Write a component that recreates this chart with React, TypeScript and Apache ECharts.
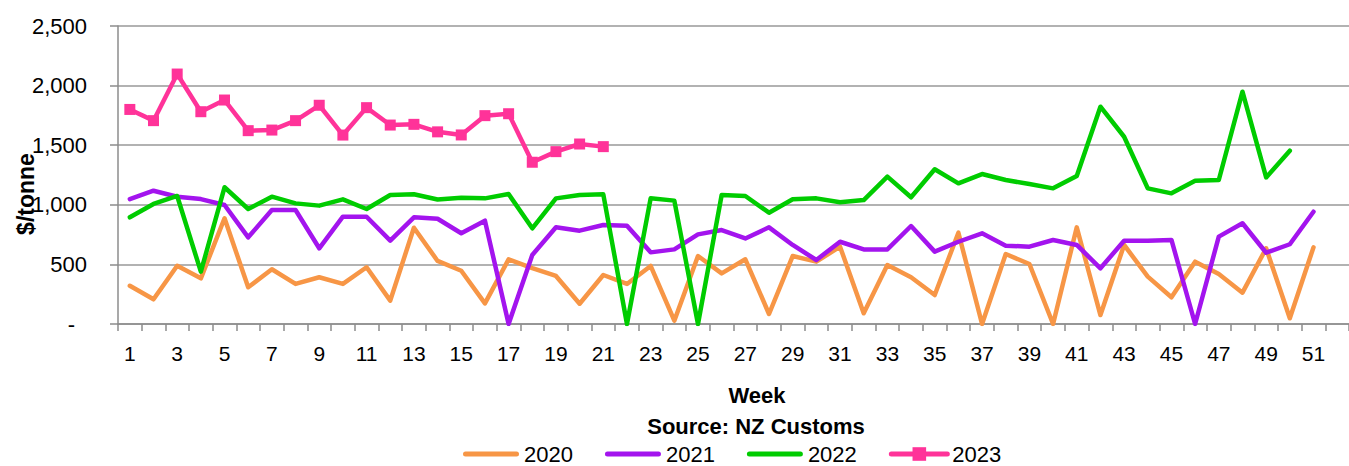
import React, { useEffect, useRef } from "react";
import * as echarts from "echarts";

const weeks: string[] = Array.from({ length: 52 }, (_, i) => String(i + 1));

const yTicks: number[] = [0, 500, 1000, 1500, 2000, 2500];

const seriesNames: string[] = ["2020", "2021", "2022", "2023"];

const values2020: number[] = [
  321, 207, 489, 383, 887, 308, 459, 336, 392, 336,
  476, 196, 808, 529, 447, 173, 543, 469, 403, 170,
  411, 336, 487, 28, 570, 425, 543, 84, 570, 523,
  649, 90, 495, 392, 243, 766, 0, 587, 503, 0,
  811, 75, 663, 397, 224, 523, 419, 263, 635, 48, 643,
];

const values2021: number[] = [
  1048, 1118, 1068, 1048, 998, 727, 956, 956, 635, 900,
  900, 699, 895, 883, 761, 867, 0, 579, 811, 783,
  830, 825, 601, 626, 752, 788, 718, 811, 663, 537,
  690, 626, 626, 822, 607, 690, 761, 657, 649, 705,
  663, 467, 699, 699, 705, 0, 733, 845, 598, 669, 942,
];

const values2022: number[] = [
  895, 1007, 1074, 439, 1147, 965, 1068, 1012, 993, 1046,
  965, 1082, 1088, 1045, 1060, 1054, 1090, 803, 1054, 1082,
  1088, 0, 1054, 1035, 0, 1082, 1074, 934, 1046, 1054,
  1021, 1040, 1236, 1063, 1298, 1180, 1258, 1208, 1174, 1138,
  1242, 1823, 1571, 1138, 1096, 1202, 1208, 1949, 1230, 1454,
];

const values2023: number[] = [
  1800, 1706, 2097, 1781, 1879, 1622, 1627, 1706, 1835, 1585,
  1815, 1669, 1675, 1612, 1586, 1748, 1764, 1357, 1446, 1510, 1488,
];

const colors: string[] = ["#F79646", "#A314EE", "#00CC00", "#FF3399"];

const FONT = "'Liberation Sans', Arial, sans-serif";

const LINE_ICON = "path://M2.5,0 H53.5 A2.5,2.5 0 0 1 53.5,5 H2.5 A2.5,2.5 0 0 1 2.5,0 Z";

export default function App() {
  const ref = useRef<HTMLDivElement>(null);

  useEffect(() => {
    if (!ref.current) return;
    const chart = echarts.init(ref.current, null, { renderer: "svg" });
    const allValues = [values2020, values2021, values2022, values2023];
    const fmt = (v: number) =>
      v === 0 ? "{d|-}" : v.toLocaleString("en-US");
    chart.setOption({
      animation: false,
      backgroundColor: "#ffffff",
      textStyle: { fontFamily: FONT },
      grid: { left: 118, top: 26, width: 52 * 23.92, height: 298, containLabel: false },
      xAxis: {
        type: "category",
        data: weeks,
        boundaryGap: true,
        axisLine: { show: true, lineStyle: { color: "#8c8c8c", width: 1.5 } },
        axisTick: { show: true, interval: 0, length: 7, lineStyle: { color: "#8c8c8c", width: 1.5 } },
        axisLabel: {
          interval: 1,
          margin: 19,
          fontSize: 21,
          color: "#000",
          fontFamily: FONT,
        },
        splitLine: { show: false },
      },
      yAxis: {
        type: "value",
        min: yTicks[0],
        max: yTicks[yTicks.length - 1],
        interval: 500,
        axisLine: { show: true, lineStyle: { color: "#8c8c8c", width: 1.5 } },
        axisTick: { show: true, length: 8, lineStyle: { color: "#8c8c8c", width: 1.5 } },
        axisLabel: {
          margin: 31,
          fontSize: 22,
          color: "#000",
          fontFamily: FONT,
          formatter: fmt,
          rich: { d: { fontSize: 22, color: "#000", padding: [0, 12, 0, 0], fontFamily: FONT } },
        },
        splitLine: { show: true, lineStyle: { color: "#999999", width: 1.5 } },
      },
      legend: {
        data: seriesNames.map((n, i) =>
          i < 3 ? { name: n, icon: LINE_ICON } : { name: n, lineStyle: { width: 5 } }
        ),
        left: 463,
        top: 443,
        padding: 0,
        itemWidth: 56,
        itemHeight: 17,
        itemGap: 32,
        textStyle: { fontSize: 22, lineHeight: 17, color: "#000", fontFamily: FONT },
      },
      graphic: [
        {
          type: "text",
          x: 757,
          y: 395,
          style: {
            text: "Week",
            font: `bold 22px ${FONT}`,
            fill: "#000",
            textAlign: "center",
            textVerticalAlign: "middle",
          },
        },
        {
          type: "text",
          x: 756,
          y: 426,
          style: {
            text: "Source: NZ Customs",
            font: `bold 22px ${FONT}`,
            fill: "#000",
            textAlign: "center",
            textVerticalAlign: "middle",
          },
        },
        {
          type: "text",
          x: 26,
          y: 194,
          rotation: Math.PI / 2,
          style: {
            text: "$/tonne",
            font: `bold 23px ${FONT}`,
            fill: "#000",
            textAlign: "center",
            textVerticalAlign: "middle",
          },
        },
      ],
      series: seriesNames.map((name, i) => ({
        name,
        type: "line",
        data: allValues[i],
        color: colors[i],
        symbol: i === 3 ? "rect" : "none",
        symbolSize: 11,
        showSymbol: i === 3,
        lineStyle: { width: 4.5, color: colors[i], cap: "round", join: "round" },
        itemStyle: { color: colors[i] },
        z: 2 + i,
      })),
    });
    return () => chart.dispose();
  }, []);

  return (
    <div
      ref={ref}
      style={{ position: "absolute", left: 0, top: 0, width: 1349, height: 466, background: "#fff" }}
    />
  );
}
